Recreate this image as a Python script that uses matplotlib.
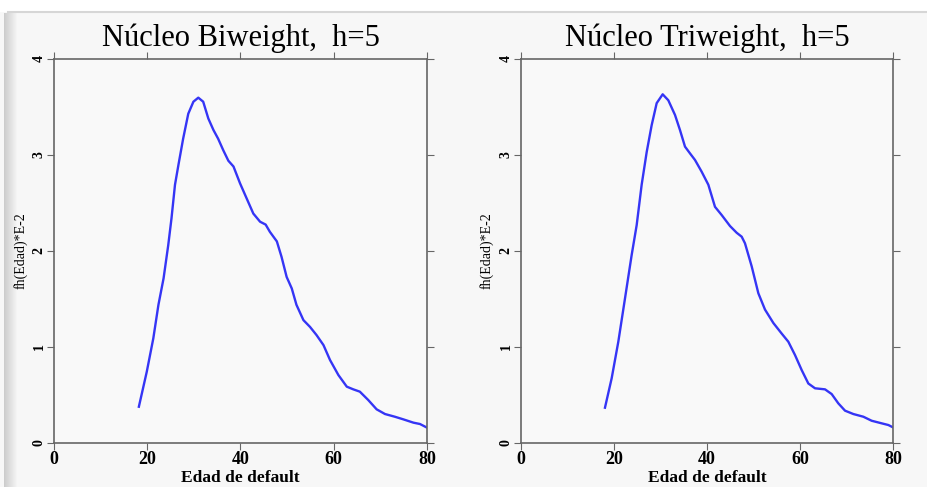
import numpy as np
import matplotlib.pyplot as plt

# curva biweight (edad, densidad*100)
edad_bi = [18.2, 19.9, 21.3, 22.4, 23.5, 24.5, 25.2, 25.95, 26.7, 27.7, 28.8, 29.9,
           30.95, 32.0, 33.1, 34.2, 35.2, 36.3, 37.4, 38.5, 39.9, 41.3, 42.75, 44.2,
           45.4, 46.3, 47.8, 48.8, 49.9, 51.0, 52.0, 53.5, 54.9, 56.3, 57.8, 59.2,
           61.0, 62.8, 64.2, 65.6, 67.4, 69.2, 71.0, 73.1, 74.9, 77.1, 78.5, 79.9]
dens_bi = [0.378, 0.743, 1.09, 1.44, 1.715, 2.06, 2.34, 2.69, 2.90, 3.17, 3.43, 3.555,
           3.597, 3.555, 3.38, 3.26, 3.17, 3.05, 2.94, 2.88, 2.705, 2.55, 2.39, 2.305,
           2.275, 2.20, 2.10, 1.94, 1.73, 1.61, 1.44, 1.28, 1.21, 1.125, 1.02, 0.865,
           0.708, 0.587, 0.559, 0.535, 0.448, 0.351, 0.302, 0.274, 0.247, 0.212, 0.198, 0.163]

# curva triweight
edad_tri = [18.06, 19.5, 20.93, 22.37, 23.8, 24.88, 25.95, 27.03, 28.1, 29.18, 30.47,
            31.68, 33.12, 34.19, 35.27, 36.34, 37.42, 38.85, 40.29, 41.72, 43.15, 44.95,
            46.38, 47.46, 48.17, 49.61, 51.04, 52.47, 54.27, 56.06, 57.49, 58.92, 60.36,
            61.79, 63.23, 65.38, 66.81, 68.24, 69.68, 71.47, 73.62, 75.41, 77.57, 79.0, 80.0]
dens_tri = [0.368, 0.674, 1.055, 1.507, 1.958, 2.27, 2.69, 3.03, 3.31, 3.54, 3.632,
            3.57, 3.417, 3.26, 3.087, 3.017, 2.948, 2.826, 2.69, 2.46, 2.375, 2.26,
            2.19, 2.149, 2.08, 1.84, 1.56, 1.39, 1.25, 1.14, 1.055, 0.917, 0.76,
            0.62, 0.57, 0.559, 0.51, 0.413, 0.337, 0.302, 0.274, 0.232, 0.205, 0.1875, 0.163]

titulos = ["Núcleo Biweight,  h=5", "Núcleo Triweight,  h=5"]
x_ticks = [0, 20, 40, 60, 80]
y_ticks = [0, 1, 2, 3, 4]

plt.rcParams['font.family'] = ['Liberation Serif', 'DejaVu Serif']

fig = plt.figure(figsize=(9.28, 4.87), dpi=100, facecolor='#f7f7f7')

# marco: franja blanca arriba y sombra a la izquierda
bg = fig.add_axes([0, 0, 1, 1], zorder=-10)
bg.axis('off')
bg.fill_between([0, 928], 0, 11, color='white')
bg.plot([8, 928], [12, 12], color='#d6d6d6', lw=1.5)
grad = np.linspace(0.80, 0.97, 20)[None, :]
bg.imshow(np.repeat(grad, 10, axis=0), cmap='gray', vmin=0, vmax=1,
          extent=[4, 18, 487, 13], aspect='auto')
bg.set_xlim(0, 928)
bg.set_ylim(487, 0)

posiciones = [[0.0582, 0.0903, 0.4019, 0.7886], [0.5614, 0.0903, 0.4009, 0.7886]]
datos = [(edad_bi, dens_bi), (edad_tri, dens_tri)]

for pos, (xs, ys), titulo in zip(posiciones, datos, titulos):
    ax = fig.add_axes(pos)
    ax.set_facecolor('#f9f9f9')
    ax.plot(xs, ys, color='#3535f5', lw=1.7, solid_joinstyle='round')
    ax.set_xlim(0, 80)
    ax.set_ylim(0, 4)
    ax.set_xticks(x_ticks)
    ax.set_yticks(y_ticks)
    ax.tick_params(direction='out', length=5, color='#666666', labelsize=10,
                   top=True, right=True, labeltop=False, labelright=False, pad=1)
    ax.tick_params(axis='x', labelsize=13)
    for lab in ax.get_xticklabels():
        lab.set_fontweight('bold')
    for lab in ax.get_yticklabels():
        lab.set_rotation(90)
        lab.set_va('center')
        lab.set_fontweight('bold')
    for s in ax.spines.values():
        s.set_color('#666666')
        s.set_linewidth(1.2)
    ax.set_title(titulo, fontsize=22, pad=9)
    ax.set_xlabel("Edad de default", fontsize=12.5, fontweight='bold', labelpad=1)
    ax.set_ylabel("fh(Edad)*E-2", fontsize=10, labelpad=4)

fig.savefig("out.png", dpi=100, facecolor=fig.get_facecolor())
